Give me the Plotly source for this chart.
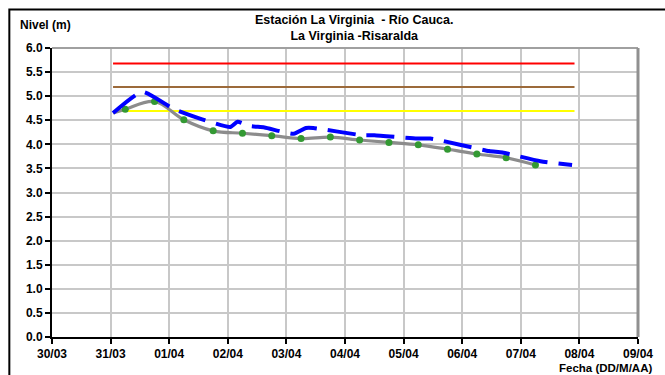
import plotly.graph_objects as go

# ---- data ----
obs_times = [
    "2024-03-31 06:00", "2024-03-31 18:00", "2024-04-01 06:00", "2024-04-01 18:00",
    "2024-04-02 06:00", "2024-04-02 18:00", "2024-04-03 06:00", "2024-04-03 18:00",
    "2024-04-04 06:00", "2024-04-04 18:00", "2024-04-05 06:00", "2024-04-05 18:00",
    "2024-04-06 06:00", "2024-04-06 18:00", "2024-04-07 06:00",
]
obs_values = [4.73, 4.89, 4.51, 4.28, 4.23, 4.18, 4.12, 4.15, 4.09, 4.04,
              3.99, 3.90, 3.80, 3.72, 3.57]
obs_start_time = "2024-03-31 01:00"
obs_start_value = 4.65

fc_times = [
    "2024-03-31 01:00", "2024-03-31 13:00", "2024-04-01 02:00", "2024-04-01 13:30",
    "2024-04-02 01:00", "2024-04-02 04:00", "2024-04-02 09:00", "2024-04-02 15:00",
    "2024-04-03 03:00", "2024-04-03 08:00", "2024-04-03 11:00", "2024-04-04 07:00",
    "2024-04-04 12:00", "2024-04-05 05:30", "2024-04-05 11:00", "2024-04-06 11:00",
    "2024-04-06 16:30", "2024-04-07 08:00", "2024-04-07 21:00",
]
fc_values = [4.65, 5.09, 4.73, 4.52, 4.36, 4.47, 4.38, 4.35, 4.22, 4.34, 4.34,
             4.19, 4.19, 4.12, 4.12, 3.86, 3.83, 3.65, 3.57]

threshold_span = ["2024-03-31 01:00", "2024-04-07 22:00"]
threshold_red = 5.68
threshold_brown = 5.19
threshold_yellow = 4.69

x_tick_vals = ["2024-03-30", "2024-03-31", "2024-04-01", "2024-04-02", "2024-04-03",
               "2024-04-04", "2024-04-05", "2024-04-06", "2024-04-07", "2024-04-08",
               "2024-04-09"]
x_tick_text = ["30/03", "31/03", "01/04", "02/04", "03/04", "04/04", "05/04",
               "06/04", "07/04", "08/04", "09/04"]
y_tick_vals = [i * 0.5 for i in range(13)]

title_line1 = "Estación La Virginia  - Río Cauca."
title_line2 = "La Virginia -Risaralda"

FONT = "Liberation Sans, Arial, sans-serif"

fig = go.Figure()

for val, col in [(threshold_red, "#FF0000"), (threshold_brown, "#9C6A3A"),
                 (threshold_yellow, "#FFFF00")]:
    fig.add_trace(go.Scatter(x=threshold_span, y=[val, val], mode="lines",
                             line=dict(color=col, width=2), hoverinfo="skip",
                             showlegend=False))

fig.add_trace(go.Scatter(x=[obs_start_time] + obs_times,
                         y=[obs_start_value] + obs_values, mode="lines",
                         line=dict(color="#8C8C8C", width=3.2, shape="spline"),
                         showlegend=False))
fig.add_trace(go.Scatter(x=obs_times, y=obs_values, mode="markers",
                         marker=dict(color="#339933", size=7), showlegend=False))
fig.add_trace(go.Scatter(x=fc_times, y=fc_values, mode="lines",
                         line=dict(color="#0000FF", width=4, dash="28px,11px",
                                   shape="spline", smoothing=0.5),
                         showlegend=False))

fig.update_layout(
    width=665, height=375,
    margin=dict(l=52, r=18, t=48, b=38),
    paper_bgcolor="white", plot_bgcolor="white",
    font=dict(family=FONT, size=12, color="black"),
    xaxis=dict(
        type="date", range=["2024-03-30", "2024-04-09"],
        tickvals=x_tick_vals, ticktext=x_tick_text,
        showgrid=True, gridcolor="#C8C8C8", gridwidth=2,
        showline=True, linecolor="black", linewidth=2,
        ticks="outside", ticklen=5, tickcolor="black", tickwidth=1.5,
        tickfont=dict(family=FONT, size=12, weight="bold"),
        zeroline=False,
    ),
    yaxis=dict(
        range=[0, 6], tickvals=y_tick_vals, tickformat=".1f",
        showgrid=True, gridcolor="#C8C8C8", gridwidth=2,
        showline=True, linecolor="black", linewidth=2,
        ticks="outside", ticklen=5, tickcolor="black", tickwidth=1.5,
        tickfont=dict(family=FONT, size=12, weight="bold"),
        zeroline=False,
    ),
    shapes=[
        dict(type="line", xref="paper", yref="paper", x0=0, x1=1, y0=1, y1=1,
             line=dict(color="#A0A0A0", width=2)),
        dict(type="line", xref="paper", yref="paper", x0=1, x1=1, y0=0, y1=1,
             line=dict(color="#909090", width=3)),
        dict(type="rect", xref="paper", yref="paper",
             x0=-0.0728, x1=1.1, y0=-0.2, y1=1.133,
             line=dict(color="black", width=2)),
    ],
    annotations=[
        dict(text="<b>" + title_line1 + "</b><br><b>" + title_line2 + "</b>",
             xref="paper", yref="paper", x=0.516, y=1.127, xanchor="center",
             yanchor="top", showarrow=False, font=dict(family=FONT, size=12.5)),
        dict(text="<b>Nivel (m)</b>", xref="paper", yref="paper", x=-0.058,
             y=1.08, xanchor="left", yanchor="middle", showarrow=False,
             font=dict(family=FONT, size=12)),
        dict(text="<b>Fecha (DD/M/AA)</b>", xref="paper", yref="paper", x=1.028,
             y=-0.108, xanchor="right", yanchor="middle", showarrow=False,
             font=dict(family=FONT, size=11.5)),
    ],
)

fig.write_html("out.html", config={"displayModeBar": False},
               post_script="document.body.style.margin='0';document.body.style.overflow='hidden';")
